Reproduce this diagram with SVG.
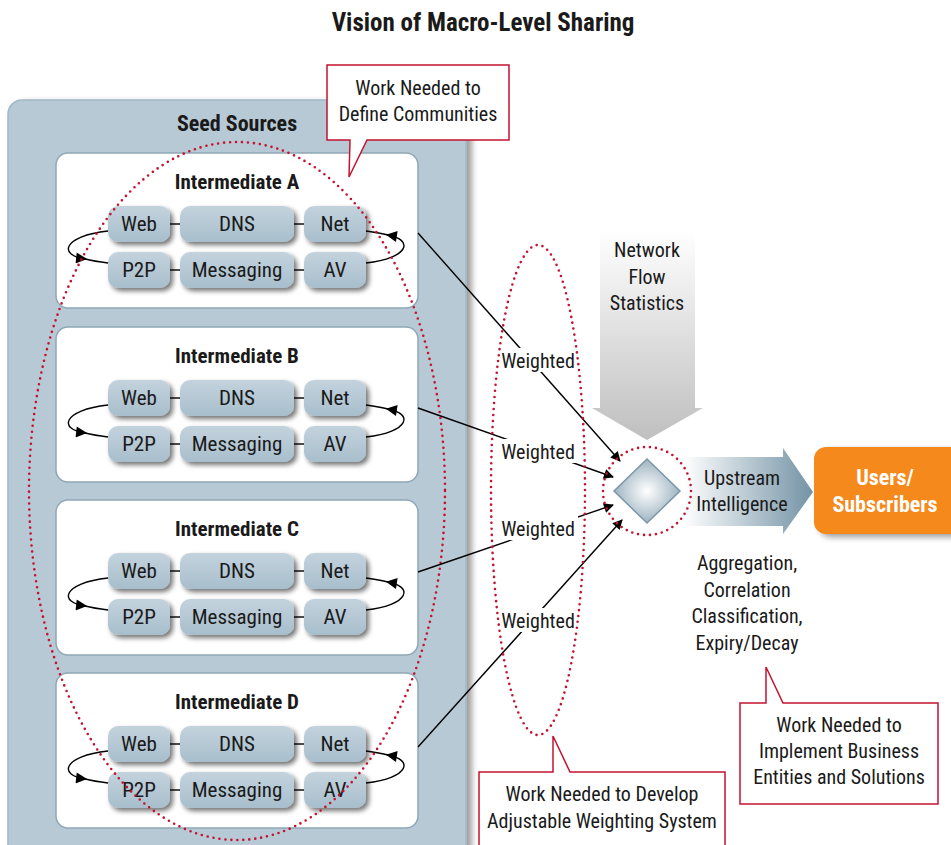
<svg xmlns="http://www.w3.org/2000/svg" width="951" height="845" viewBox="0 0 951 845">
<defs>
<style>
.t{font-family:"Liberation Sans Narrow","Roboto Condensed","DejaVu Sans Condensed","Liberation Sans",sans-serif;fill:#1a1a1a;text-anchor:middle}
.b{font-weight:bold}
.pt{font-size:21px}
.it{font-size:21px;font-weight:bold}
.ib{fill:#fff;stroke:#8ea7b6;stroke-width:1.5}
.pill{fill:url(#pg);filter:url(#sh)}
.lk{stroke:#111;stroke-width:1.5;fill:none}
.dot{fill:none;stroke:#c4122f;stroke-width:2.6;stroke-dasharray:0 6;stroke-linecap:round}
.co{fill:#fff;stroke:#c4122f;stroke-width:1.5}
.ln{stroke:#000;stroke-width:1.4;fill:none}
</style>
<linearGradient id="pg" x1="0" y1="0" x2="0" y2="1"><stop offset="0" stop-color="#c3d3de"/><stop offset="1" stop-color="#a8becc"/></linearGradient>
<linearGradient id="ga" x1="0" y1="230" x2="0" y2="440" gradientUnits="userSpaceOnUse"><stop offset="0" stop-color="#ffffff"/><stop offset="1" stop-color="#bfbfbf"/></linearGradient>
<linearGradient id="ua" x1="683" y1="0" x2="813" y2="0" gradientUnits="userSpaceOnUse"><stop offset="0" stop-color="#ffffff"/><stop offset="1" stop-color="#7393a5"/></linearGradient>
<radialGradient id="dg" cx="0.5" cy="0.5" r="0.6"><stop offset="0" stop-color="#ffffff"/><stop offset="1" stop-color="#8aa4b4"/></radialGradient>
<filter id="sh" x="-20%" y="-20%" width="150%" height="160%"><feGaussianBlur in="SourceAlpha" stdDeviation="2.5"/><feOffset dx="3" dy="3" result="o"/><feComponentTransfer><feFuncA type="linear" slope="0.55"/></feComponentTransfer><feMerge><feMergeNode/><feMergeNode in="SourceGraphic"/></feMerge></filter>
<filter id="sh2" x="-5%" y="-5%" width="115%" height="115%"><feGaussianBlur in="SourceAlpha" stdDeviation="3"/><feOffset dx="5" dy="3" result="o"/><feComponentTransfer><feFuncA type="linear" slope="0.4"/></feComponentTransfer><feMerge><feMergeNode/><feMergeNode in="SourceGraphic"/></feMerge></filter>
<marker id="ah" viewBox="0 0 10 10" refX="9" refY="5" markerWidth="13" markerHeight="10" markerUnits="userSpaceOnUse" orient="auto"><path d="M0,0 L10,5 L0,10 z" fill="#000"/></marker>
<marker id="ah2" viewBox="0 0 10 10" refX="9" refY="5" markerWidth="14" markerHeight="11" markerUnits="userSpaceOnUse" orient="auto"><path d="M0,0 L10,5 L0,10 z" fill="#000"/></marker>
</defs>
<rect width="951" height="845" fill="#fff"/>
<text class="t b" x="483" y="31" font-size="25">Vision of Macro-Level Sharing</text>

<g id="seed-sources">
<rect x="8" y="100" width="458" height="770" rx="14" fill="#b7c9d5" stroke="#a3b7c4" stroke-width="1.5" filter="url(#sh2)"/>
<text class="t b" x="237" y="131" font-size="22">Seed Sources</text>
</g>

<g id="intermediate-a">
<rect class="ib" x="56" y="153" width="362" height="155" rx="12"/>
<text class="t it" x="237" y="189">Intermediate A</text>
<line class="lk" x1="170" y1="224" x2="180" y2="224"/><line class="lk" x1="294" y1="224" x2="304" y2="224"/>
<line class="lk" x1="170" y1="270" x2="180" y2="270"/><line class="lk" x1="294" y1="270" x2="304" y2="270"/>
<rect class="pill" x="108" y="206" width="62" height="36" rx="10"/><rect class="pill" x="180" y="206" width="114" height="36" rx="10"/><rect class="pill" x="304" y="206" width="62" height="36" rx="10"/>
<rect class="pill" x="108" y="252" width="62" height="36" rx="10"/><rect class="pill" x="180" y="252" width="114" height="36" rx="10"/><rect class="pill" x="304" y="252" width="62" height="36" rx="10"/>
<text class="t pt" x="139" y="231">Web</text><text class="t pt" x="237" y="231">DNS</text><text class="t pt" x="335" y="231">Net</text>
<text class="t pt" x="139" y="277">P2P</text><text class="t pt" x="237" y="277">Messaging</text><text class="t pt" x="335" y="277">AV</text>
<path class="ln" d="M108,231 C62,236 58,256 86,259" marker-end="url(#ah2)"/><path class="ln" d="M85,259 C93,261 100,262 108,263"/>
<path class="ln" d="M366,263 C410,258 414,239 387,235" marker-end="url(#ah2)"/><path class="ln" d="M388,235 C380,233 373,232 366,231"/>
</g>

<g id="intermediate-b">
<rect class="ib" x="56" y="327" width="362" height="155" rx="12"/>
<text class="t it" x="237" y="363">Intermediate B</text>
<line class="lk" x1="170" y1="398" x2="180" y2="398"/><line class="lk" x1="294" y1="398" x2="304" y2="398"/>
<line class="lk" x1="170" y1="444" x2="180" y2="444"/><line class="lk" x1="294" y1="444" x2="304" y2="444"/>
<rect class="pill" x="108" y="380" width="62" height="36" rx="10"/><rect class="pill" x="180" y="380" width="114" height="36" rx="10"/><rect class="pill" x="304" y="380" width="62" height="36" rx="10"/>
<rect class="pill" x="108" y="426" width="62" height="36" rx="10"/><rect class="pill" x="180" y="426" width="114" height="36" rx="10"/><rect class="pill" x="304" y="426" width="62" height="36" rx="10"/>
<text class="t pt" x="139" y="405">Web</text><text class="t pt" x="237" y="405">DNS</text><text class="t pt" x="335" y="405">Net</text>
<text class="t pt" x="139" y="451">P2P</text><text class="t pt" x="237" y="451">Messaging</text><text class="t pt" x="335" y="451">AV</text>
<path class="ln" d="M108,405 C62,410 58,430 86,433" marker-end="url(#ah2)"/><path class="ln" d="M85,433 C93,435 100,436 108,437"/>
<path class="ln" d="M366,437 C410,432 414,413 387,409" marker-end="url(#ah2)"/><path class="ln" d="M388,409 C380,407 373,406 366,405"/>
</g>

<g id="intermediate-c">
<rect class="ib" x="56" y="500" width="362" height="155" rx="12"/>
<text class="t it" x="237" y="536">Intermediate C</text>
<line class="lk" x1="170" y1="571" x2="180" y2="571"/><line class="lk" x1="294" y1="571" x2="304" y2="571"/>
<line class="lk" x1="170" y1="617" x2="180" y2="617"/><line class="lk" x1="294" y1="617" x2="304" y2="617"/>
<rect class="pill" x="108" y="553" width="62" height="36" rx="10"/><rect class="pill" x="180" y="553" width="114" height="36" rx="10"/><rect class="pill" x="304" y="553" width="62" height="36" rx="10"/>
<rect class="pill" x="108" y="599" width="62" height="36" rx="10"/><rect class="pill" x="180" y="599" width="114" height="36" rx="10"/><rect class="pill" x="304" y="599" width="62" height="36" rx="10"/>
<text class="t pt" x="139" y="578">Web</text><text class="t pt" x="237" y="578">DNS</text><text class="t pt" x="335" y="578">Net</text>
<text class="t pt" x="139" y="624">P2P</text><text class="t pt" x="237" y="624">Messaging</text><text class="t pt" x="335" y="624">AV</text>
<path class="ln" d="M108,578 C62,583 58,603 86,606" marker-end="url(#ah2)"/><path class="ln" d="M85,606 C93,608 100,609 108,610"/>
<path class="ln" d="M366,610 C410,605 414,586 387,582" marker-end="url(#ah2)"/><path class="ln" d="M388,582 C380,580 373,579 366,578"/>
</g>

<g id="intermediate-d">
<rect class="ib" x="56" y="673" width="362" height="155" rx="12"/>
<text class="t it" x="237" y="709">Intermediate D</text>
<line class="lk" x1="170" y1="744" x2="180" y2="744"/><line class="lk" x1="294" y1="744" x2="304" y2="744"/>
<line class="lk" x1="170" y1="790" x2="180" y2="790"/><line class="lk" x1="294" y1="790" x2="304" y2="790"/>
<rect class="pill" x="108" y="726" width="62" height="36" rx="10"/><rect class="pill" x="180" y="726" width="114" height="36" rx="10"/><rect class="pill" x="304" y="726" width="62" height="36" rx="10"/>
<rect class="pill" x="108" y="772" width="62" height="36" rx="10"/><rect class="pill" x="180" y="772" width="114" height="36" rx="10"/><rect class="pill" x="304" y="772" width="62" height="36" rx="10"/>
<text class="t pt" x="139" y="751">Web</text><text class="t pt" x="237" y="751">DNS</text><text class="t pt" x="335" y="751">Net</text>
<text class="t pt" x="139" y="797">P2P</text><text class="t pt" x="237" y="797">Messaging</text><text class="t pt" x="335" y="797">AV</text>
<path class="ln" d="M108,751 C62,756 58,776 86,779" marker-end="url(#ah2)"/><path class="ln" d="M85,779 C93,781 100,782 108,783"/>
<path class="ln" d="M366,783 C410,778 414,759 387,755" marker-end="url(#ah2)"/><path class="ln" d="M388,755 C380,753 373,752 366,751"/>
</g>

<g id="community-ellipse"><ellipse class="dot" cx="237" cy="491" rx="208" ry="349"/></g>

<g id="network-flow">
<polygon points="600,228 695,228 695,408 703,408 647,440 592,408 600,408" fill="url(#ga)"/>
<text class="t" x="647" y="257" font-size="20">Network</text>
<text class="t" x="647" y="284" font-size="20">Flow</text>
<text class="t" x="647" y="310" font-size="20">Statistics</text>
</g>

<g id="upstream">
<polygon points="683,457 783,457 783,448 813,492 783,534 783,526 683,526" fill="url(#ua)"/>
<text class="t" x="742" y="485" font-size="20">Upstream</text>
<text class="t" x="742" y="511" font-size="20">Intelligence</text>
</g>

<g id="users">
<rect x="814" y="447" width="150" height="87" rx="12" fill="#f5891f" filter="url(#sh2)"/>
<text class="t b" x="885" y="485" font-size="22" style="fill:#fff">Users/</text>
<text class="t b" x="885" y="512" font-size="22" style="fill:#fff">Subscribers</text>
</g>

<g id="connectors">
<line class="ln" x1="418" y1="233" x2="620" y2="461" marker-end="url(#ah)"/>
<line class="ln" x1="418" y1="408" x2="613" y2="477" marker-end="url(#ah)"/>
<line class="ln" x1="418" y1="572" x2="613" y2="505" marker-end="url(#ah)"/>
<line class="ln" x1="418" y1="747" x2="622" y2="520" marker-end="url(#ah)"/>
</g>

<g id="weight-labels">
<rect x="498" y="348" width="80" height="24" fill="#fff"/><text class="t" x="538" y="368" font-size="20">Weighted</text>
<rect x="498" y="439" width="80" height="24" fill="#fff"/><text class="t" x="538" y="459" font-size="20">Weighted</text>
<rect x="498" y="516" width="80" height="24" fill="#fff"/><text class="t" x="538" y="536" font-size="20">Weighted</text>
<rect x="498" y="608" width="80" height="24" fill="#fff"/><text class="t" x="538" y="628" font-size="20">Weighted</text>
</g>

<g id="weight-ellipse"><ellipse class="dot" cx="538" cy="490" rx="47" ry="245"/></g>

<g id="diamond">
<polygon points="647,459 680,491 647,523 614,491" fill="url(#dg)" stroke="#7b97a8" stroke-width="1.5"/>
<circle class="dot" cx="647" cy="491" r="44"/>
</g>

<text class="t" x="747" y="570" font-size="20">Aggregation,</text>
<text class="t" x="747" y="597" font-size="20">Correlation</text>
<text class="t" x="747" y="623" font-size="20">Classification,</text>
<text class="t" x="747" y="650" font-size="20">Expiry/Decay</text>

<g id="callout-communities">
<path class="co" d="M327,65 H509 V140 H367 L349,177 L350,140 H327 Z"/>
<text class="t" x="418" y="95" font-size="20">Work Needed to</text>
<text class="t" x="418" y="121" font-size="20">Define Communities</text>
</g>

<g id="callout-business">
<path class="co" d="M740,703 H766 V667 L783,703 H938 V804 H740 Z"/>
<text class="t" x="839" y="732" font-size="20">Work Needed to</text>
<text class="t" x="839" y="758" font-size="20">Implement Business</text>
<text class="t" x="839" y="784" font-size="20">Entities and Solutions</text>
</g>

<g id="callout-weighting">
<path class="co" d="M479,772 H553 V736 L570,772 H725 V860 H479 Z"/>
<text class="t" x="602" y="801" font-size="20">Work Needed to Develop</text>
<text class="t" x="602" y="828" font-size="20">Adjustable Weighting System</text>
</g>
</svg>
